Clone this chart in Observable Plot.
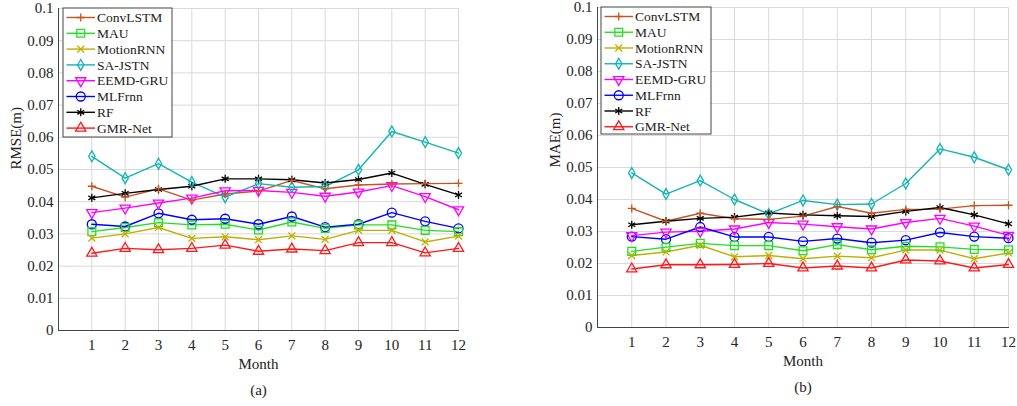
<!DOCTYPE html>
<html>
<head>
<meta charset="utf-8">
<script src="https://cdn.jsdelivr.net/npm/d3@7"></script>
<script src="https://cdn.jsdelivr.net/npm/@observablehq/plot@0.6"></script>
<style>
  html, body { margin: 0; padding: 0; background: #fff; }
  #wrap { position: relative; width: 1017px; height: 406px; display: flex; }
  #wrap svg { display: block; overflow: visible; font-family: "Liberation Serif", "Times New Roman", serif !important; }
  #wrap svg text { font-family: "Liberation Serif", "Times New Roman", serif; }
</style>
</head>
<body>
<div id="wrap"></div>
<script>
// Months on the x axis
const months = [1, 2, 3, 4, 5, 6, 7, 8, 9, 10, 11, 12];
const yTicks = [0, 0.01, 0.02, 0.03, 0.04, 0.05, 0.06, 0.07, 0.08, 0.09, 0.1];

// Models, their line colours and marker shapes
const models = ["ConvLSTM", "MAU", "MotionRNN", "SA-JSTN", "EEMD-GRU", "MLFrnn", "RF", "GMR-Net"];
const colors = ["#c9531f", "#22e022", "#bdb000", "#14b4b4", "#ff00ff", "#0000ff", "#000000", "#ff1a1a"];
const symbols = ["plus", "square", "times", "diamond", "triangle", "circle", "asterisk", "triangle"];
const rotations = [0, 0, 0, 0, 180, 0, 0, 0];
// marker radius per shape, so that all markers come out about the same size
const markerR = [2.7, 4.4, 3.2, 3.3, 3.8, 4.5, 3.8, 3.8];

// RMSE (m) per model, months 1–12
const rmseByModel = [
  [0.0448, 0.0414, 0.0440, 0.0405, 0.0424, 0.0433, 0.0466, 0.0440, 0.0452, 0.0455, 0.0456, 0.0457],
  [0.0307, 0.0320, 0.0335, 0.0328, 0.0330, 0.0312, 0.0337, 0.0317, 0.0328, 0.0328, 0.0311, 0.0307],
  [0.0287, 0.0300, 0.0320, 0.0286, 0.0291, 0.0282, 0.0294, 0.0283, 0.0311, 0.0311, 0.0275, 0.0293],
  [0.0541, 0.0473, 0.0518, 0.0461, 0.0414, 0.0456, 0.0445, 0.0447, 0.0499, 0.0618, 0.0585, 0.0551],
  [0.0366, 0.0380, 0.0396, 0.0411, 0.0434, 0.0435, 0.0429, 0.0417, 0.0430, 0.0450, 0.0416, 0.0375],
  [0.0330, 0.0323, 0.0364, 0.0344, 0.0347, 0.0330, 0.0354, 0.0321, 0.0330, 0.0366, 0.0339, 0.0317],
  [0.0412, 0.0426, 0.0438, 0.0448, 0.0471, 0.0471, 0.0468, 0.0458, 0.0469, 0.0489, 0.0454, 0.0421],
  [0.0240, 0.0255, 0.0251, 0.0255, 0.0265, 0.0246, 0.0253, 0.0248, 0.0273, 0.0273, 0.0241, 0.0255]
];

// MAE (m) per model, months 1–12
const maeByModel = [
  [0.0372, 0.0332, 0.0357, 0.0340, 0.0338, 0.0348, 0.0378, 0.0357, 0.0369, 0.0370, 0.0381, 0.0382],
  [0.0238, 0.0251, 0.0263, 0.0256, 0.0256, 0.0240, 0.0259, 0.0243, 0.0254, 0.0252, 0.0244, 0.0243],
  [0.0225, 0.0236, 0.0257, 0.0221, 0.0225, 0.0215, 0.0223, 0.0218, 0.0242, 0.0242, 0.0215, 0.0233],
  [0.0483, 0.0417, 0.0459, 0.0400, 0.0355, 0.0397, 0.0384, 0.0386, 0.0450, 0.0558, 0.0532, 0.0493],
  [0.0287, 0.0298, 0.0301, 0.0308, 0.0328, 0.0323, 0.0315, 0.0308, 0.0328, 0.0341, 0.0317, 0.0288],
  [0.0284, 0.0276, 0.0314, 0.0283, 0.0283, 0.0269, 0.0278, 0.0265, 0.0273, 0.0297, 0.0284, 0.0279],
  [0.0321, 0.0332, 0.0341, 0.0345, 0.0358, 0.0352, 0.0349, 0.0347, 0.0363, 0.0375, 0.0352, 0.0324],
  [0.0183, 0.0196, 0.0196, 0.0197, 0.0200, 0.0186, 0.0192, 0.0186, 0.0211, 0.0208, 0.0186, 0.0197]
];

const FONT = "'Liberation Serif', 'Times New Roman', serif";
const d3Symbols = {
  plus: d3.symbolPlus, square: d3.symbolSquare, times: d3.symbolTimes, diamond: d3.symbolDiamond,
  triangle: d3.symbolTriangle, circle: d3.symbolCircle, asterisk: d3.symbolAsterisk
};

function toRows(byModel) {
  return byModel.flatMap((vals, i) => vals.map((v, j) => ({model: models[i], idx: i, month: months[j], value: v})));
}

function panel({values, yLabel, tag, width, margins, legendBox}) {
  const rows = toRows(values);
  const svg = Plot.plot({
    width, height: 406,
    marginLeft: margins[0], marginRight: margins[1], marginTop: margins[2], marginBottom: margins[3],
    style: `font-family: ${FONT}; font-size: 15px; color: #222; background: #fff;`,
    x: {domain: [0, 12], ticks: months, label: null, tickSize: 0, tickPadding: 9, tickFormat: d => String(d)},
    y: {domain: [0, 0.1], ticks: yTicks, label: null, tickSize: 0, tickPadding: 5, tickFormat: d => d === 0 ? "0" : String(+d.toFixed(2))},
    color: {domain: models, range: colors},
    symbol: {domain: models, range: symbols},
    r: {type: "identity"},
    marks: [
      Plot.gridX(months, {stroke: "#d9d9d9", strokeOpacity: 1}),
      Plot.gridY(yTicks, {stroke: "#d9d9d9", strokeOpacity: 1}),
      Plot.frame({anchor: "left", stroke: "#444"}),
      Plot.frame({anchor: "bottom", stroke: "#444"}),
      Plot.line(rows, {x: "month", y: "value", z: "model", stroke: "model", strokeWidth: 1.4}),
      Plot.dot(rows, {x: "month", y: "value", stroke: "model", symbol: "model", fill: "none",
        r: d => markerR[d.idx], strokeWidth: 1.3, rotate: d => rotations[d.idx]}),
      Plot.text([yLabel], {text: d => d, frameAnchor: "left", dx: -42, rotate: -90, fontSize: 15, lineAnchor: "middle"}),
      Plot.text(["Month"], {text: d => d, frameAnchor: "bottom", dy: 34, fontSize: 15, lineAnchor: "middle"}),
      Plot.text([tag], {text: d => d, frameAnchor: "bottom", dy: 60, fontSize: 15, lineAnchor: "middle"})
    ]
  });

  // Legend box in the upper-left corner of the axes
  const {x, y, w, h, rowH, lineW} = legendBox;
  const g = d3.select(svg).append("g").attr("class", "legend").attr("text-anchor", "start");
  g.append("rect").attr("x", x).attr("y", y).attr("width", w).attr("height", h)
    .attr("fill", "#fff").attr("stroke", "#444").attr("stroke-width", 1);
  models.forEach((name, i) => {
    const cy = y + 9.5 + i * rowH;
    const x0 = x + 3.5;
    const r = markerR[i];
    g.append("line").attr("x1", x0).attr("x2", x0 + lineW).attr("y1", cy).attr("y2", cy)
      .attr("stroke", colors[i]).attr("stroke-width", 1.4);
    g.append("path")
      .attr("d", d3.symbol(d3Symbols[symbols[i]], Math.PI * r * r)())
      .attr("transform", `translate(${x0 + lineW / 2},${cy}) rotate(${rotations[i]})`)
      .attr("fill", "none").attr("stroke", colors[i]).attr("stroke-width", 1.3);
    g.append("text").attr("x", x0 + lineW + 2).attr("y", cy).attr("dy", "0.35em")
      .attr("text-anchor", "start").attr("font-size", 13.5).attr("fill", "#222").text(name);
  });
  return svg;
}

const wrap = document.getElementById("wrap");
wrap.appendChild(panel({
  values: rmseByModel, yLabel: "RMSE(m)", tag: "(a)", width: 508,
  margins: [58, 50, 8, 76],
  legendBox: {x: 63, y: 8, w: 109, h: 129, rowH: 15.8, lineW: 28.5}
}));
wrap.appendChild(panel({
  values: maeByModel, yLabel: "MAE(m)", tag: "(b)", width: 509,
  margins: [89, 9, 7, 79],
  legendBox: {x: 93, y: 7, w: 110, h: 127, rowH: 15.75, lineW: 28.5}
}));
</script>
</body>
</html>
